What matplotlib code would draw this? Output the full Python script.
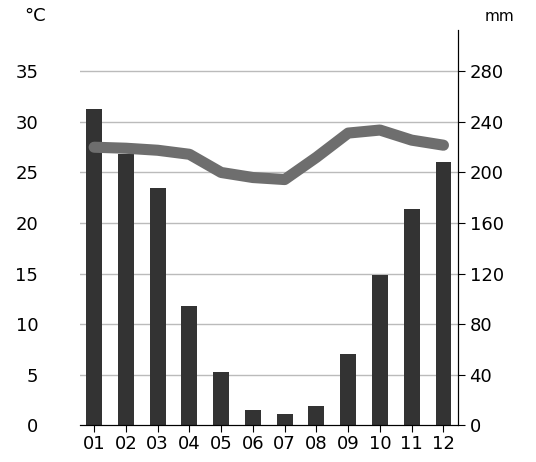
import matplotlib.pyplot as plt

months = ['01', '02', '03', '04', '05', '06', '07', '08', '09', '10', '11', '12']
rain_mm = [250, 215, 188, 94, 42, 12, 9, 15, 56, 119, 171, 208]
temp_c = [27.5, 27.4, 27.2, 26.8, 25.0, 24.5, 24.3, 26.5, 28.9, 29.2, 28.2, 27.7]

fig = plt.figure(figsize=(5.36, 4.62), dpi=100)
ax = fig.add_axes([0.149, 0.080, 0.705, 0.855])
ax2 = ax.twinx()

x = range(len(months))
ax2.bar(x, rain_mm, width=0.5, color='#333333', zorder=2)
ax.plot(x, temp_c, color='#6e6e6e', lw=8, solid_capstyle='round', zorder=3)
ax.set_zorder(ax2.get_zorder() + 1)
ax.patch.set_visible(False)

top = 39.1
ax.set_ylim(0, top)
ax2.set_ylim(0, top * 8)
ax.set_xlim(-0.45, 11.45)
ax.set_yticks(range(0, 36, 5))
ax2.set_yticks(range(0, 281, 40))
for v in range(5, 36, 5):
    ax2.axhline(v * 8, color='#bbbbbb', lw=1, zorder=0)
ax.set_xticks(list(x))
ax.set_xticklabels(months)

for a in (ax, ax2):
    a.spines['top'].set_visible(False)
    a.spines['left'].set_visible(False)
    a.tick_params(labelsize=13, length=4)
ax2.spines['right'].set_color('black')
ax.tick_params(axis='y', length=0, pad=30)
ax.tick_params(axis='x', length=5, pad=2)
for lbl in ax.get_yticklabels():
    lbl.set_horizontalalignment('right')
ax2.tick_params(axis='y', length=5)

fig.text(0.045, 0.955, '°C', fontsize=13)
fig.text(0.905, 0.955, 'mm', fontsize=11)

fig.savefig('out.png', dpi=100)
